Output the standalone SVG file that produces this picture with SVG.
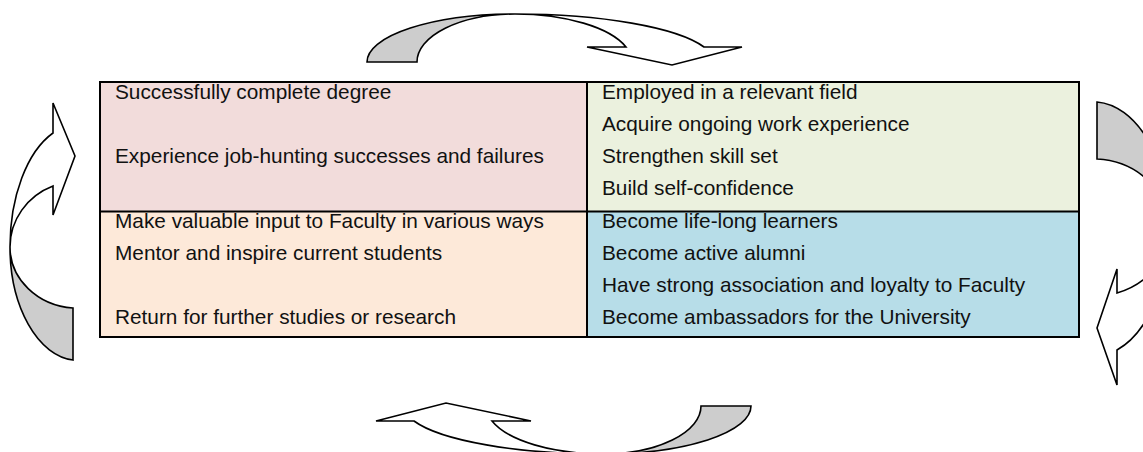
<svg xmlns="http://www.w3.org/2000/svg" width="1143" height="452" viewBox="0 0 1143 452">
  <style>
    .cell { stroke: none; }
    .grid { fill: none; stroke: #000; stroke-width: 2; }
    .label { font-family: "Liberation Sans", Arial, Helvetica, sans-serif; font-size: 20.8px; fill: #111; }
    .arrow-front { fill: #fff; stroke: #000; stroke-width: 1.6; stroke-linejoin: miter; }
    .arrow-back { fill: #cdcdcd; stroke: #000; stroke-width: 1.6; stroke-linejoin: miter; }
  </style>

  <rect width="1143" height="452" fill="#fff"/>

  <!-- curved arrows around the table -->
  <g id="connectors">
    <g id="arrow-top">
      <path class="arrow-back" d="M367,62 A148,48 0 0 1 515,14 A98,48 0 0 0 417,62 Z"/>
      <path class="arrow-front" d="M515,14 A199,48 0 0 1 704,47 L742,47 L672,65 L587,47 L626,47 A117,48 0 0 0 515,14 Z"/>
    </g>
    <g id="arrow-bottom">
      <path class="arrow-back" d="M751,406 A148,48 0 0 1 603,454 A98,48 0 0 0 701,406 Z"/>
      <path class="arrow-front" d="M603,454 A199,48 0 0 1 414,421 L376,421 L446,403 L531,421 L492,421 A117,48 0 0 0 603,454 Z"/>
    </g>
    <g id="arrow-left">
      <path class="arrow-back" d="M10,247 A68,113.3 0 0 0 73,360 L73,308 A68,61.2 0 0 1 10,247 Z"/>
      <path class="arrow-front" d="M53,103 L53,133 A68,122.6 0 0 0 10,247 A68,65.6 0 0 1 53,186 L53,215 L75,156 Z"/>
    </g>
    <g id="arrow-right">
      <path class="arrow-back" d="M1097,102 A76,124.1 0 0 1 1169,228 A76,69.1 0 0 0 1097,159 Z"/>
      <path class="arrow-front" d="M1169,228 A76,128.6 0 0 1 1117,350 L1117,385 L1097,328 L1117,269 L1117,293 A76,67.2 0 0 0 1169,228 Z"/>
    </g>
  </g>

  <!-- quadrant: graduation -->
  <g id="node-graduate">
    <rect class="cell" x="100" y="82" width="487" height="129.5" fill="#f2dcdb"/>
    <text class="label" x="115" y="99">Successfully complete degree</text>
    <text class="label" x="115" y="163">Experience job-hunting successes and failures</text>
  </g>

  <!-- quadrant: employment -->
  <g id="node-employed">
    <rect class="cell" x="587" y="82" width="492" height="129.5" fill="#ebf1de"/>
    <text class="label" x="602" y="99">Employed in a relevant field</text>
    <text class="label" x="602" y="131">Acquire ongoing work experience</text>
    <text class="label" x="602" y="163">Strengthen skill set</text>
    <text class="label" x="602" y="195">Build self-confidence</text>
  </g>

  <!-- quadrant: alumni -->
  <g id="node-alumni">
    <rect class="cell" x="587" y="211.5" width="492" height="125.5" fill="#b7dde8"/>
    <text class="label" x="602" y="228">Become life-long learners</text>
    <text class="label" x="602" y="260">Become active alumni</text>
    <text class="label" x="602" y="292">Have strong association and loyalty to Faculty</text>
    <text class="label" x="602" y="324">Become ambassadors for the University</text>
  </g>

  <!-- quadrant: giving back -->
  <g id="node-contribute">
    <rect class="cell" x="100" y="211.5" width="487" height="125.5" fill="#fde9d9"/>
    <text class="label" x="115" y="228">Make valuable input to Faculty in various ways</text>
    <text class="label" x="115" y="260">Mentor and inspire current students</text>
    <text class="label" x="115" y="324">Return for further studies or research</text>
  </g>

  <!-- table rules -->
  <g id="table-grid">
    <rect class="grid" x="100" y="82" width="979" height="255"/>
    <line class="grid" x1="100" y1="211.5" x2="1079" y2="211.5"/>
    <line class="grid" x1="587" y1="82" x2="587" y2="337"/>
  </g>
</svg>
